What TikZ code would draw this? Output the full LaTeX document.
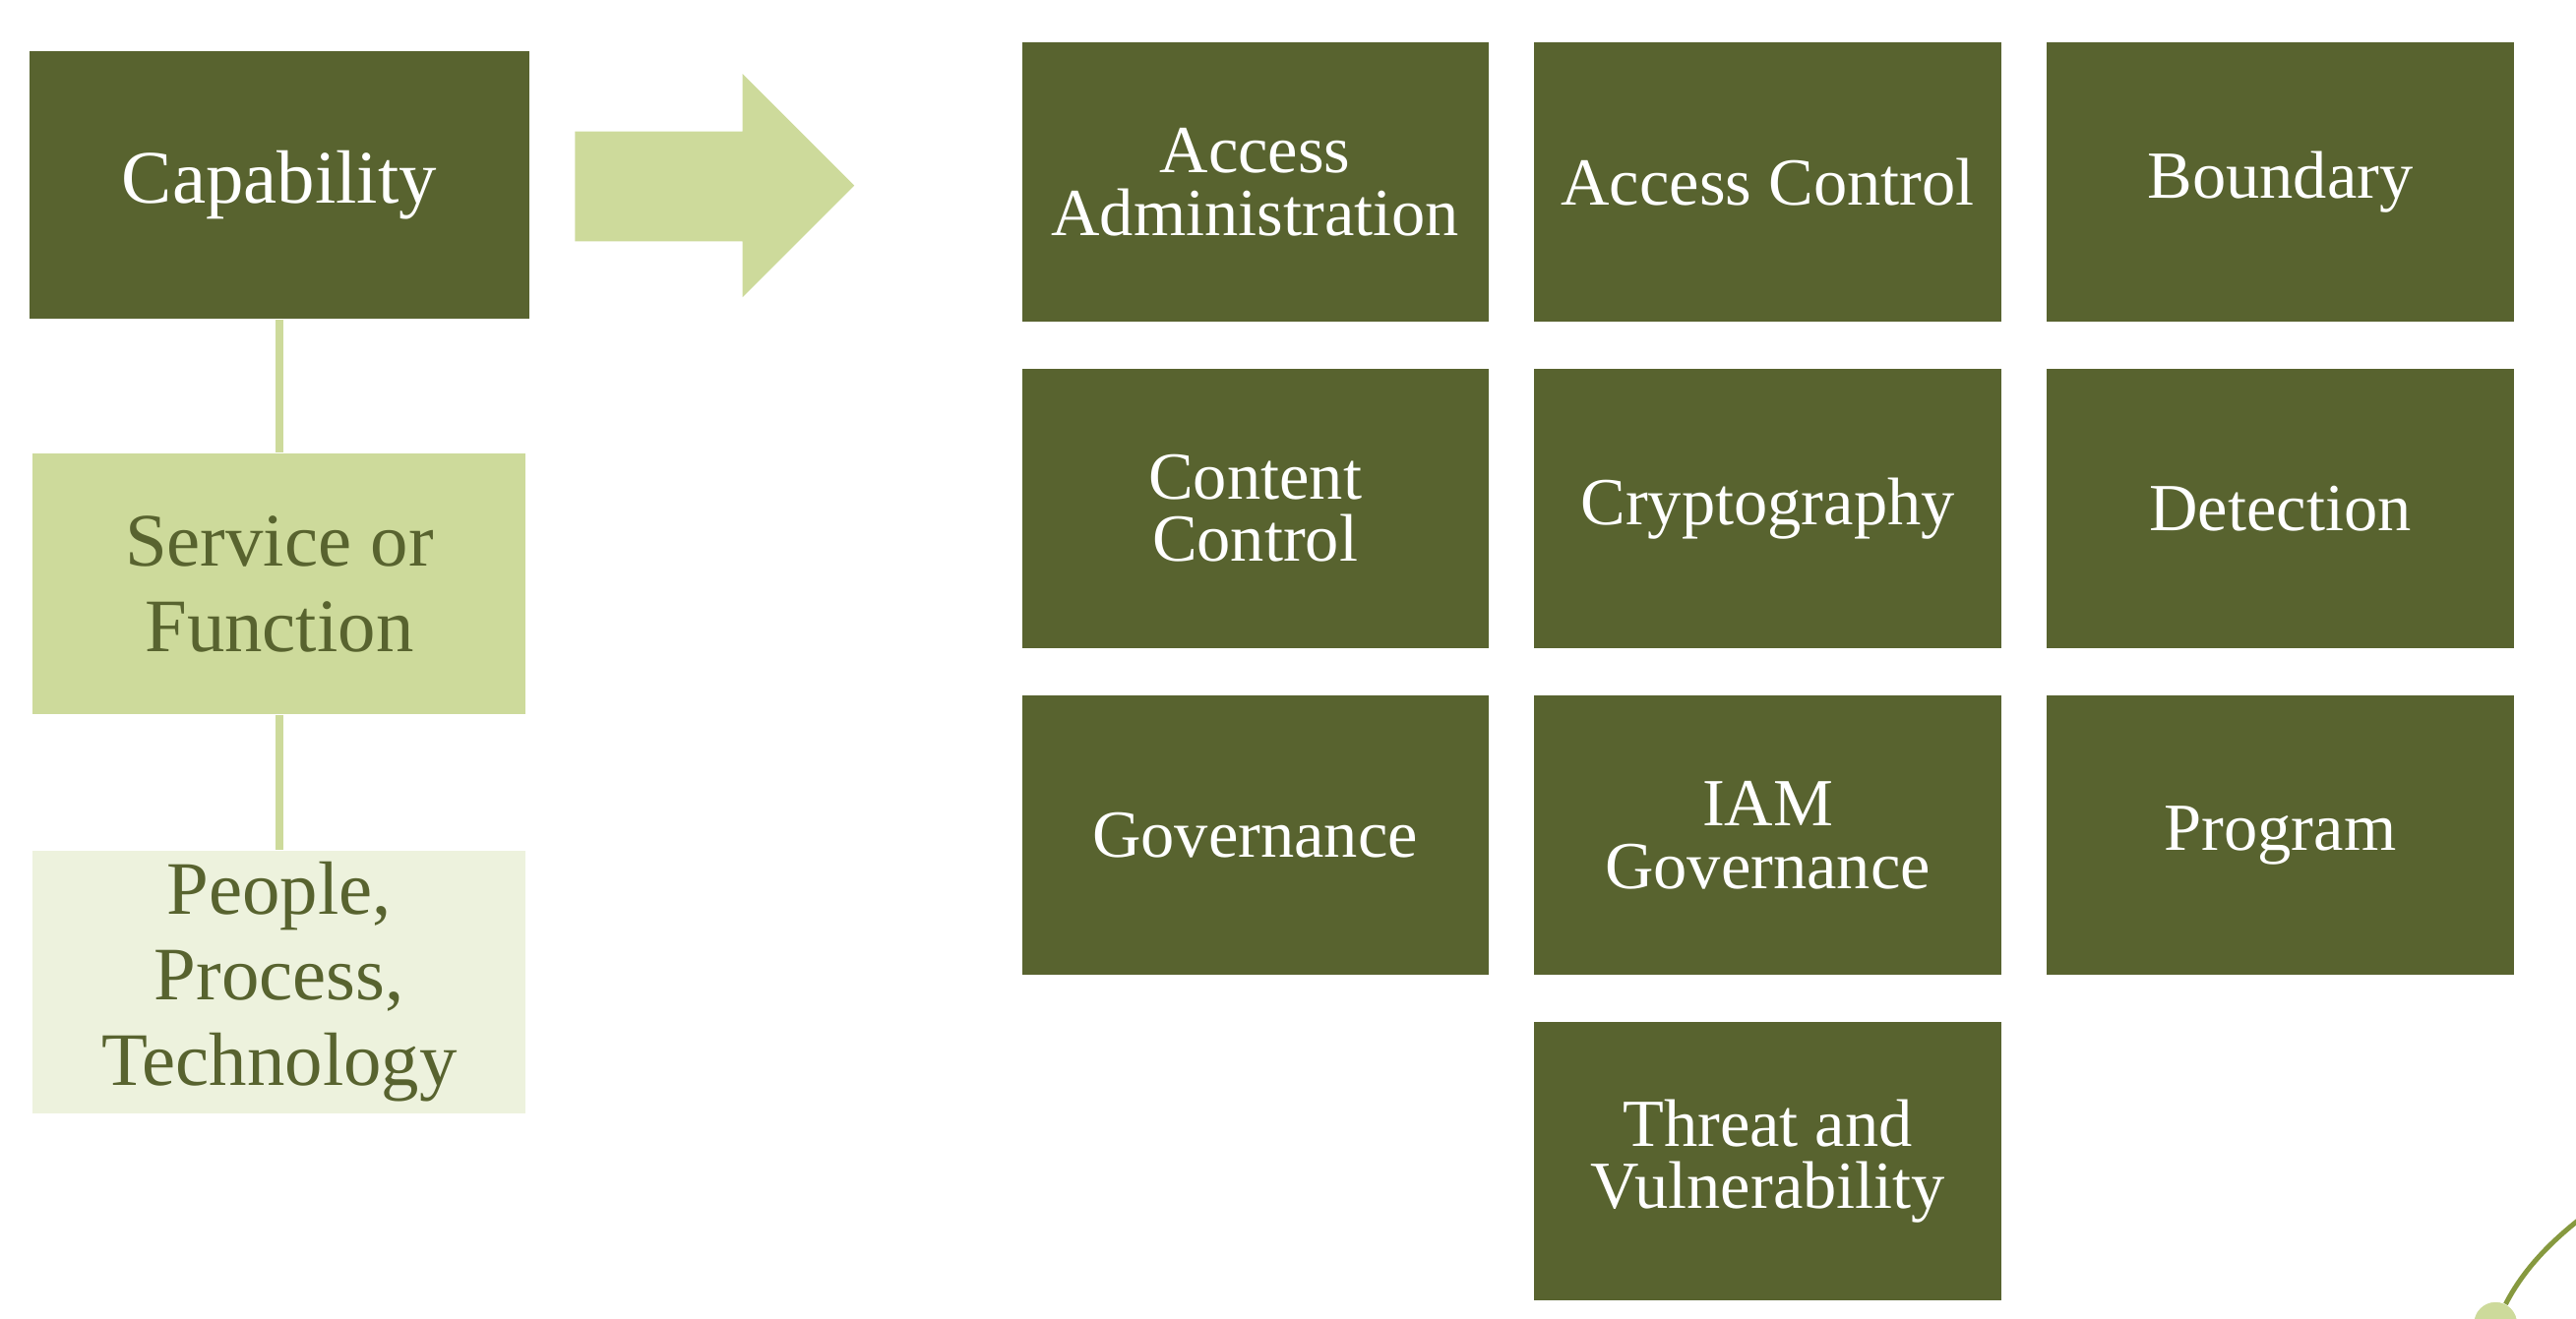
\documentclass[tikz,border=0pt]{standalone}
\usepackage{fontspec}
\setmainfont{Liberation Serif}
\definecolor{olive}{RGB}{88,99,47}
\definecolor{lightg}{RGB}{205,218,155}
\definecolor{paleg}{RGB}{237,242,221}
\definecolor{curveg}{RGB}{134,153,63}
\tikzset{
  leftbox/.style={rectangle, inner sep=0pt, minimum width=150pt, minimum height=80pt, align=center, font=\fontsize{23}{26}\selectfont},
  gridbox/.style={rectangle, fill=olive, text=white, inner sep=0pt, minimum width=142pt, minimum height=85pt, align=center, font=\fontsize{20.5}{19}\selectfont},
  link/.style={draw=lightg, line width=2.5pt}
}
\begin{document}
\begin{tikzpicture}[x=0.5pt,y=-0.5pt]
\useasboundingbox (0,0) rectangle (1568,803);
% left column
\node[leftbox, fill=olive, text=white, minimum width=152pt, minimum height=81.5pt] (cap) at (170,112.5) {Capability};
\node[leftbox, fill=lightg, text=olive, minimum height=79.5pt] (serv) at (170,355.5) {Service or\\Function};
\node[leftbox, fill=paleg, text=olive] (ppt) at (170,598) {People,\\Process,\\Technology};
\draw[link] (cap.south) -- (serv.north);
\draw[link] (serv.south) -- (ppt.north);
% block arrow
\fill[lightg] (350,80) -- (452,80) -- (452,45) -- (520,113) -- (452,181) -- (452,147) -- (350,147) -- cycle;
% grid
\node[gridbox] (aa) at (764,111) {Access\\Administration};
\node[gridbox] (ac) at (1076,111) {Access Control};
\node[gridbox] (bo) at (1388,111) {Boundary};
\node[gridbox] (cc) at (764,309.5) {Content\\Control};
\node[gridbox] (cr) at (1076,309.5) {Cryptography};
\node[gridbox] (de) at (1388,309.5) {Detection};
\node[gridbox] (go) at (764,508.5) {Governance};
\node[gridbox] (ig) at (1076,508.5) {IAM\\Governance};
\node[gridbox] (pr) at (1388,508.5) {Program};
\node[gridbox] (tv) at (1076,707) {Threat and\\Vulnerability};
% decoration bottom right
\coordinate (cend) at (1572,741);
\node[circle, fill=lightg, inner sep=0pt, minimum size=13pt] (dot) at (1519,806) {};
\draw[curveg, line width=1.5pt] (dot) .. controls (1535,775) and (1550,758) .. (cend);
\node[circle, fill=lightg, inner sep=0pt, minimum size=13pt] at (dot) {};
\end{tikzpicture}
\end{document}
